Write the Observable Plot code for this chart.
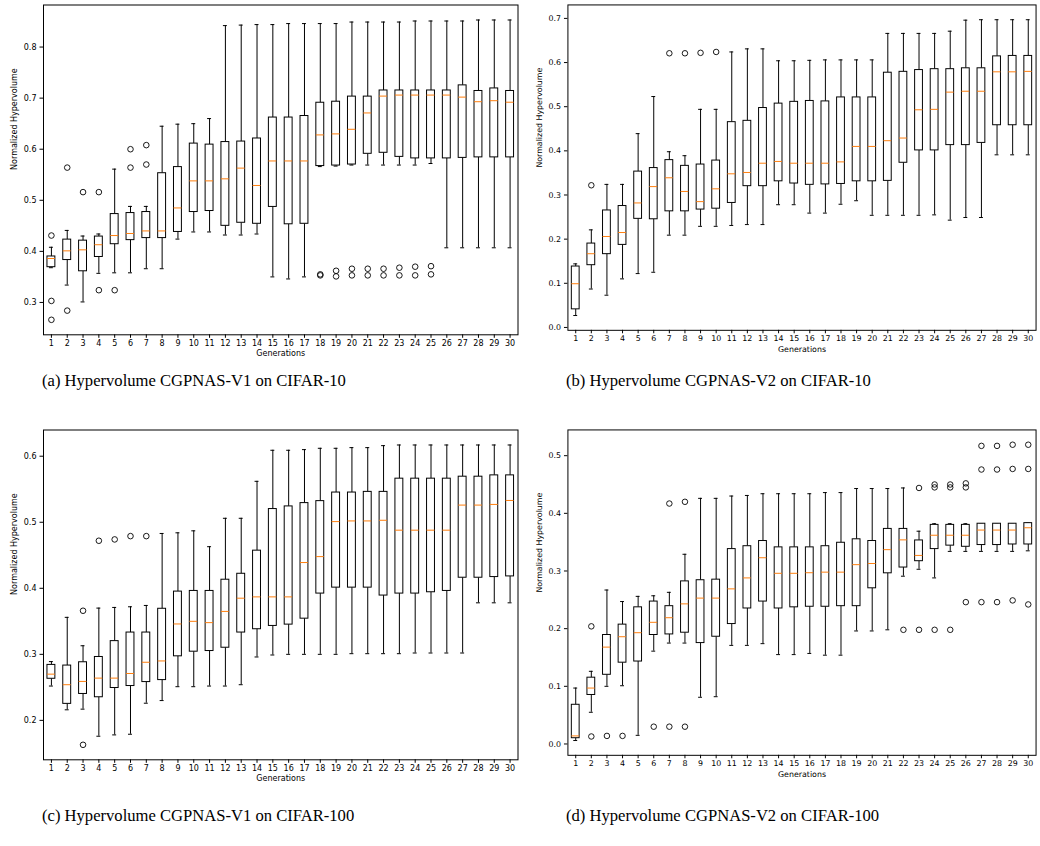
<!DOCTYPE html>
<html><head><meta charset="utf-8">
<script src="https://cdn.jsdelivr.net/npm/d3@7"></script>
<script src="https://cdn.jsdelivr.net/npm/@observablehq/plot@0.6"></script>
<style>
html,body{margin:0;padding:0;background:#fff;width:1040px;height:846px;overflow:hidden;position:relative}
.panel{position:absolute}
.cap{position:absolute;font-family:"Liberation Serif",serif;font-size:16.6px;line-height:20px;white-space:nowrap;color:#000}
</style></head><body>
<div id="root"></div>
<script>
const generations = [1,2,3,4,5,6,7,8,9,10,11,12,13,14,15,16,17,18,19,20,21,22,23,24,25,26,27,28,29,30];

// (a) CGPNAS-V1 on CIFAR-10
const aLow  = [0.368,0.334,0.301,0.357,0.358,0.358,0.366,0.366,0.424,0.438,0.438,0.432,0.432,0.434,0.350,0.346,0.350,0.566,0.567,0.569,0.569,0.569,0.569,0.569,0.572,0.407,0.407,0.407,0.407,0.407];
const aQ1   = [0.369,0.383,0.361,0.389,0.414,0.422,0.426,0.426,0.438,0.477,0.479,0.450,0.456,0.454,0.487,0.453,0.454,0.567,0.568,0.570,0.591,0.593,0.585,0.582,0.582,0.582,0.583,0.584,0.584,0.584];
const aMed  = [0.386,0.401,0.403,0.413,0.431,0.435,0.440,0.440,0.485,0.538,0.538,0.542,0.563,0.529,0.577,0.577,0.577,0.628,0.630,0.639,0.671,0.704,0.706,0.706,0.706,0.706,0.702,0.693,0.695,0.692];
const aQ3   = [0.390,0.423,0.421,0.429,0.473,0.475,0.477,0.553,0.565,0.611,0.609,0.614,0.615,0.621,0.662,0.662,0.665,0.691,0.693,0.703,0.703,0.715,0.715,0.715,0.715,0.715,0.725,0.714,0.719,0.714];
const aHigh = [0.408,0.441,0.430,0.434,0.561,0.488,0.488,0.645,0.649,0.650,0.660,0.842,0.843,0.844,0.844,0.846,0.846,0.846,0.846,0.849,0.849,0.849,0.849,0.851,0.851,0.851,0.851,0.853,0.853,0.853];
const aOutGen = [1,1,1,2,2,3,4,4,5,6,6,7,7,18,18,19,19,20,20,21,21,22,22,23,23,24,24,25,25];
const aOutVal = [0.431,0.303,0.266,0.564,0.284,0.516,0.516,0.324,0.324,0.600,0.564,0.608,0.570,0.353,0.355,0.362,0.351,0.366,0.353,0.366,0.353,0.366,0.353,0.368,0.353,0.370,0.353,0.371,0.355];
const aTicks = [0.3,0.4,0.5,0.6,0.7,0.8];

// (b) CGPNAS-V2 on CIFAR-10
const bLow  = [0.027,0.087,0.073,0.110,0.122,0.125,0.209,0.209,0.229,0.229,0.231,0.233,0.233,0.278,0.278,0.259,0.259,0.279,0.287,0.254,0.254,0.254,0.254,0.255,0.243,0.249,0.249,0.391,0.391,0.391];
const bQ1   = [0.041,0.141,0.166,0.187,0.246,0.245,0.263,0.263,0.267,0.269,0.282,0.320,0.320,0.331,0.326,0.323,0.324,0.325,0.331,0.331,0.332,0.373,0.401,0.401,0.413,0.413,0.418,0.458,0.458,0.458];
const bMed  = [0.099,0.167,0.206,0.215,0.282,0.319,0.339,0.308,0.285,0.314,0.348,0.351,0.372,0.376,0.372,0.372,0.372,0.375,0.410,0.410,0.423,0.429,0.493,0.494,0.533,0.535,0.535,0.579,0.579,0.580];
const bQ3   = [0.138,0.190,0.265,0.275,0.353,0.361,0.379,0.366,0.369,0.378,0.465,0.468,0.497,0.507,0.511,0.513,0.512,0.521,0.521,0.521,0.577,0.579,0.583,0.585,0.585,0.587,0.587,0.614,0.615,0.615];
const bHigh = [0.144,0.221,0.324,0.324,0.439,0.523,0.398,0.389,0.494,0.494,0.624,0.631,0.631,0.604,0.604,0.605,0.606,0.606,0.606,0.606,0.666,0.666,0.666,0.666,0.671,0.696,0.697,0.697,0.697,0.697];
const bOutGen = [2,7,8,9,10];
const bOutVal = [0.322,0.621,0.621,0.622,0.624];
const bTicks = [0.0,0.1,0.2,0.3,0.4,0.5,0.6,0.7];

// (c) CGPNAS-V1 on CIFAR-100
const cLow  = [0.252,0.216,0.217,0.176,0.178,0.179,0.226,0.230,0.251,0.251,0.252,0.252,0.254,0.296,0.299,0.300,0.300,0.300,0.300,0.301,0.301,0.301,0.301,0.302,0.302,0.302,0.302,0.378,0.378,0.378];
const cQ1   = [0.263,0.225,0.240,0.235,0.249,0.252,0.258,0.261,0.297,0.304,0.305,0.310,0.333,0.338,0.343,0.345,0.354,0.392,0.401,0.401,0.401,0.389,0.392,0.392,0.394,0.396,0.416,0.416,0.417,0.418];
const cMed  = [0.270,0.254,0.259,0.264,0.264,0.271,0.288,0.290,0.346,0.350,0.348,0.365,0.385,0.387,0.387,0.387,0.439,0.448,0.501,0.502,0.502,0.503,0.488,0.488,0.488,0.488,0.526,0.526,0.527,0.533];
const cQ3   = [0.284,0.283,0.288,0.296,0.320,0.333,0.333,0.369,0.395,0.396,0.396,0.413,0.422,0.457,0.520,0.524,0.529,0.532,0.545,0.545,0.546,0.546,0.566,0.566,0.566,0.566,0.569,0.569,0.571,0.571];
const cHigh = [0.289,0.356,0.313,0.370,0.371,0.372,0.374,0.483,0.484,0.487,0.463,0.506,0.506,0.562,0.609,0.609,0.610,0.612,0.612,0.613,0.613,0.616,0.617,0.617,0.617,0.617,0.617,0.617,0.617,0.617];
const cOutGen = [3,3,4,5,6,7];
const cOutVal = [0.366,0.163,0.472,0.474,0.479,0.479];
const cTicks = [0.2,0.3,0.4,0.5,0.6];

// (d) CGPNAS-V2 on CIFAR-100
const dLow  = [0.006,0.055,0.100,0.101,0.015,0.161,0.175,0.175,0.081,0.082,0.171,0.171,0.174,0.155,0.155,0.157,0.154,0.154,0.196,0.196,0.198,0.291,0.303,0.288,0.334,0.334,0.334,0.334,0.334,0.335];
const dQ1   = [0.010,0.085,0.120,0.141,0.143,0.189,0.190,0.193,0.175,0.186,0.208,0.235,0.247,0.235,0.237,0.238,0.238,0.239,0.239,0.270,0.296,0.306,0.317,0.338,0.344,0.342,0.345,0.345,0.346,0.346];
const dMed  = [0.014,0.097,0.168,0.186,0.193,0.211,0.219,0.243,0.253,0.253,0.269,0.288,0.323,0.296,0.296,0.297,0.298,0.298,0.311,0.313,0.337,0.354,0.327,0.362,0.362,0.362,0.371,0.371,0.371,0.375];
const dQ3   = [0.068,0.115,0.189,0.207,0.237,0.247,0.239,0.282,0.284,0.285,0.338,0.343,0.352,0.341,0.341,0.341,0.343,0.349,0.355,0.352,0.373,0.373,0.353,0.380,0.380,0.380,0.382,0.382,0.382,0.383];
const dHigh = [0.097,0.126,0.267,0.247,0.256,0.257,0.263,0.329,0.426,0.426,0.430,0.431,0.434,0.434,0.434,0.434,0.436,0.436,0.443,0.443,0.443,0.444,0.369,0.382,0.382,0.382,0.382,0.382,0.382,0.383];
const dOutGen = [2,2,3,4,6,7,7,8,8,22,23,23,24,24,24,25,25,25,26,26,26,27,27,27,28,28,28,29,29,29,30,30,30];
const dOutVal = [0.204,0.013,0.014,0.014,0.030,0.417,0.030,0.420,0.030,0.198,0.444,0.198,0.450,0.445,0.198,0.450,0.445,0.198,0.452,0.445,0.246,0.517,0.476,0.246,0.517,0.476,0.246,0.519,0.477,0.249,0.519,0.477,0.242];
const dTicks = [0.0,0.1,0.2,0.3,0.4,0.5];

const captions = [
  "(a) Hypervolume CGPNAS-V1 on CIFAR-10",
  "(b) Hypervolume CGPNAS-V2 on CIFAR-10",
  "(c) Hypervolume CGPNAS-V1 on CIFAR-100",
  "(d) Hypervolume CGPNAS-V2 on CIFAR-100"
];

function boxPanel(low, q1, med, q3, high, outGen, outVal, ticks) {
  const rows = generations.map((g, i) => ({g, low: low[i], q1: q1[i], med: med[i], q3: q3[i], high: high[i]}));
  const outs = outGen.map((g, i) => ({g, v: outVal[i]}));
  const all = [...low, ...high, ...outVal];
  const lo = d3.min(all), hi = d3.max(all), pad = (hi - lo) * 0.05;
  return Plot.plot({
    width: 522, height: 360,
    marginLeft: 43, marginRight: 4.5, marginTop: 4.5, marginBottom: 25.7,
    style: {fontFamily: "DejaVu Sans", fontSize: "8px", background: "white", overflow: "visible", color: "black"},
    x: {domain: [0.5, 30.5], ticks: generations, tickFormat: d => String(d), tickSize: 3.5, tickPadding: 2, label: null},
    y: {domain: [lo - pad, hi + pad], ticks: ticks, tickFormat: d3.format(".1f"), tickSize: 3.5, tickPadding: 3.5, label: null},
    marks: [
      Plot.ruleX(rows, {x: "g", y1: "low", y2: "q1", stroke: "black", strokeWidth: 1}),
      Plot.ruleX(rows, {x: "g", y1: "q3", y2: "high", stroke: "black", strokeWidth: 1}),
      Plot.ruleY(rows, {y: "low", x1: d => d.g - 0.125, x2: d => d.g + 0.125, stroke: "black", strokeWidth: 1}),
      Plot.ruleY(rows, {y: "high", x1: d => d.g - 0.125, x2: d => d.g + 0.125, stroke: "black", strokeWidth: 1}),
      Plot.rect(rows, {x1: d => d.g - 0.25, x2: d => d.g + 0.25, y1: "q1", y2: "q3", fill: "white", stroke: "black", strokeWidth: 1}),
      Plot.ruleY(rows, {y: "med", x1: d => d.g - 0.25, x2: d => d.g + 0.25, stroke: "#ff7f0e", strokeWidth: 1}),
      Plot.dot(outs, {x: "g", y: "v", r: 2.8, stroke: "black", fill: "none", strokeWidth: 0.9}),
      Plot.frame({stroke: "black", strokeWidth: 1}),
      Plot.text(["Generations"], {frameAnchor: "bottom", dy: 21.5, fontSize: 8}),
      Plot.text(["Normalized Hypervolume"], {frameAnchor: "left", dx: -29, rotate: -90, fontSize: 8})
    ]
  });
}

const root = document.getElementById("root");
const panels = [
  {p: boxPanel(aLow, aQ1, aMed, aQ3, aHigh, aOutGen, aOutVal, aTicks), left: 0, top: 0},
  {p: boxPanel(bLow, bQ1, bMed, bQ3, bHigh, bOutGen, bOutVal, bTicks), left: 525, top: 0},
  {p: boxPanel(cLow, cQ1, cMed, cQ3, cHigh, cOutGen, cOutVal, cTicks), left: 0, top: 425},
  {p: boxPanel(dLow, dQ1, dMed, dQ3, dHigh, dOutGen, dOutVal, dTicks), left: 525, top: 425}
];
panels.forEach(({p, left, top}) => {
  const div = document.createElement("div");
  div.className = "panel";
  div.style.left = left + "px";
  div.style.top = top + "px";
  div.appendChild(p);
  root.appendChild(div);
});
const capPos = [[42, 371], [566, 371], [42, 806], [566, 806]];
captions.forEach((t, i) => {
  const c = document.createElement("div");
  c.className = "cap";
  c.style.left = capPos[i][0] + "px";
  c.style.top = capPos[i][1] + "px";
  c.textContent = t;
  root.appendChild(c);
});
</script>
</body></html>
